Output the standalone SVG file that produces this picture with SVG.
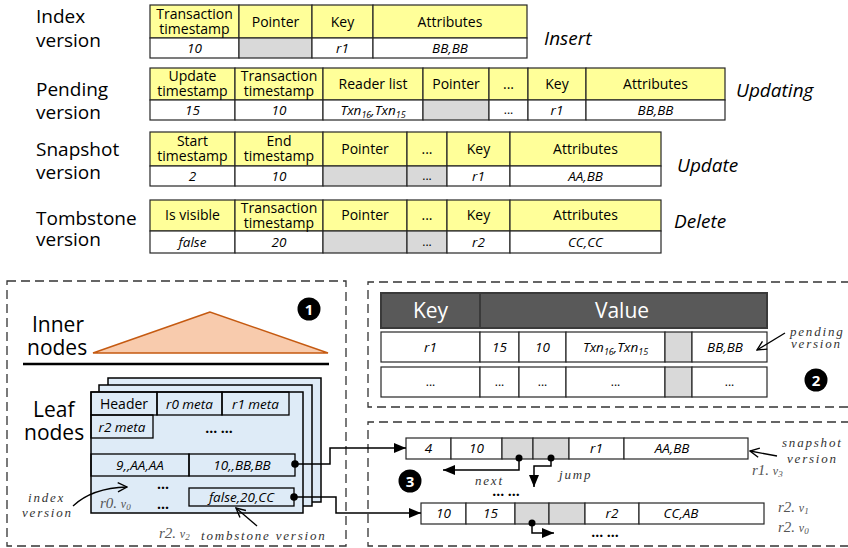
<svg xmlns="http://www.w3.org/2000/svg" width="848" height="548" viewBox="0 0 848 548">
<defs>
<style>
text{font-family:"Open Sans","Liberation Sans",sans-serif;fill:#000}
.y{fill:#FFFF99;stroke:#262626;stroke-width:1.2}
.w{fill:#fff;stroke:#262626;stroke-width:1.2}
.g{fill:#D9D9D9;stroke:#262626;stroke-width:1.2}
.h{font-size:14px;text-anchor:middle}
.d{font-size:13.5px;font-style:italic;text-anchor:middle}
.e{font-size:12px;text-anchor:middle}
.lb{font-size:19px}
.op{font-size:19px;font-style:italic}
.dash{fill:none;stroke:#333;stroke-width:1.3;stroke-dasharray:9 5}
.leaf{fill:#DEEBF7;stroke:#000;stroke-width:1.5}
.lc{fill:none;stroke:#000;stroke-width:1.3}
.m{font-family:"Liberation Serif",serif;font-style:italic;font-size:13px;letter-spacing:1.8px;fill:#333}
.s{font-family:"Liberation Serif",serif;font-style:italic;fill:#555}
.con{fill:none;stroke:#000;stroke-width:1.5}
.ann{fill:none;stroke:#000;stroke-width:1.3}
.bt{fill:#fff;font-size:15px;font-weight:bold;text-anchor:middle}
.kh{fill:#595959;stroke:#3a3a3a;stroke-width:2}
.kt{fill:#fff;font-size:21px;text-anchor:middle}
.big{font-size:21px}
.bdots{font-size:14px;font-weight:bold;text-anchor:middle}
</style>
<marker id="ah" viewBox="0 0 12 10" refX="12" refY="5" markerWidth="12" markerHeight="10" markerUnits="userSpaceOnUse" orient="auto"><path d="M0,0 L12,5 L0,10 z" fill="#000"/></marker>
<marker id="oa" viewBox="0 0 12 12" refX="11" refY="6" markerWidth="11" markerHeight="11" markerUnits="userSpaceOnUse" orient="auto"><path d="M1,1 L11,6 L1,11" fill="none" stroke="#000" stroke-width="1.5"/></marker>
</defs>

<!-- Index version -->
<g id="index-version">
<text class="lb" x="36" y="23">Index<tspan x="36" dy="24">version</tspan></text>
<rect class="y" x="150" y="5" width="89" height="33"/><rect class="y" x="239" y="5" width="73" height="33"/><rect class="y" x="312" y="5" width="61" height="33"/><rect class="y" x="373" y="5" width="154" height="33"/>
<rect class="w" x="150" y="38" width="89" height="20"/><rect class="g" x="239" y="38" width="73" height="20"/><rect class="w" x="312" y="38" width="61" height="20"/><rect class="w" x="373" y="38" width="154" height="20"/>
<text class="h" x="194.5" y="19">Transaction<tspan x="194.5" dy="15">timestamp</tspan></text>
<text class="h" x="275.5" y="27">Pointer</text><text class="h" x="342.5" y="27">Key</text><text class="h" x="450" y="27">Attributes</text>
<text class="d" x="194.5" y="53">10</text><text class="d" x="342.5" y="53">r1</text><text class="d" x="450" y="53">BB,BB</text>
<text class="op" x="544" y="45">Insert</text>
</g>

<!-- Pending version -->
<g id="pending-version">
<text class="lb" x="36" y="96">Pending<tspan x="36" dy="23">version</tspan></text>
<rect class="y" x="150" y="68" width="85" height="32"/><rect class="y" x="235" y="68" width="88" height="32"/><rect class="y" x="323" y="68" width="100" height="32"/><rect class="y" x="423" y="68" width="66" height="32"/><rect class="y" x="489" y="68" width="39" height="32"/><rect class="y" x="528" y="68" width="58" height="32"/><rect class="y" x="586" y="68" width="139" height="32"/>
<rect class="w" x="150" y="100" width="85" height="20"/><rect class="w" x="235" y="100" width="88" height="20"/><rect class="w" x="323" y="100" width="100" height="20"/><rect class="g" x="423" y="100" width="66" height="20"/><rect class="w" x="489" y="100" width="39" height="20"/><rect class="w" x="528" y="100" width="58" height="20"/><rect class="w" x="586" y="100" width="139" height="20"/>
<text class="h" x="192.5" y="81">Update<tspan x="192.5" dy="15">timestamp</tspan></text>
<text class="h" x="279" y="81">Transaction<tspan x="279" dy="15">timestamp</tspan></text>
<text class="h" x="373" y="89">Reader list</text><text class="h" x="456" y="89">Pointer</text><text class="h" x="508.5" y="89">...</text><text class="h" x="557" y="89">Key</text><text class="h" x="655.5" y="89">Attributes</text>
<text class="d" x="192.5" y="115">15</text><text class="d" x="279" y="115">10</text>
<text class="d" x="373" y="115">Txn<tspan font-size="9" dy="3">16</tspan><tspan dy="-3">,Txn</tspan><tspan font-size="9" dy="3">15</tspan></text>
<text class="e" x="508.5" y="114">...</text><text class="d" x="557" y="115">r1</text><text class="d" x="655.5" y="115">BB,BB</text>
<text class="op" x="736" y="97">Updating</text>
</g>

<!-- Snapshot version -->
<g id="snapshot-version">
<text class="lb" x="36" y="156">Snapshot<tspan x="36" dy="23">version</tspan></text>
<rect class="y" x="150" y="132" width="85" height="34"/><rect class="y" x="235" y="132" width="88" height="34"/><rect class="y" x="323" y="132" width="84" height="34"/><rect class="y" x="407" y="132" width="40" height="34"/><rect class="y" x="447" y="132" width="63" height="34"/><rect class="y" x="510" y="132" width="151" height="34"/>
<rect class="w" x="150" y="166" width="85" height="20"/><rect class="w" x="235" y="166" width="88" height="20"/><rect class="g" x="323" y="166" width="84" height="20"/><rect class="g" x="407" y="166" width="40" height="20"/><rect class="w" x="447" y="166" width="63" height="20"/><rect class="w" x="510" y="166" width="151" height="20"/>
<text class="h" x="192.5" y="146">Start<tspan x="192.5" dy="15">timestamp</tspan></text>
<text class="h" x="279" y="146">End<tspan x="279" dy="15">timestamp</tspan></text>
<text class="h" x="365" y="154">Pointer</text><text class="h" x="427" y="154">...</text><text class="h" x="478.5" y="154">Key</text><text class="h" x="585.5" y="154">Attributes</text>
<text class="d" x="192.5" y="181">2</text><text class="d" x="279" y="181">10</text><text class="e" x="427" y="180">...</text><text class="d" x="478.5" y="181">r1</text><text class="d" x="585.5" y="181">AA,BB</text>
<text class="op" x="677" y="172">Update</text>
</g>

<!-- Tombstone version -->
<g id="tombstone-version">
<text class="lb" x="36" y="225">Tombstone<tspan x="36" dy="21">version</tspan></text>
<rect class="y" x="150" y="200" width="85" height="31"/><rect class="y" x="235" y="200" width="88" height="31"/><rect class="y" x="323" y="200" width="84" height="31"/><rect class="y" x="407" y="200" width="40" height="31"/><rect class="y" x="447" y="200" width="63" height="31"/><rect class="y" x="510" y="200" width="151" height="31"/>
<rect class="w" x="150" y="231" width="85" height="22"/><rect class="w" x="235" y="231" width="88" height="22"/><rect class="g" x="323" y="231" width="84" height="22"/><rect class="g" x="407" y="231" width="40" height="22"/><rect class="w" x="447" y="231" width="63" height="22"/><rect class="w" x="510" y="231" width="151" height="22"/>
<text class="h" x="192.5" y="220">Is visible</text>
<text class="h" x="279" y="213">Transaction<tspan x="279" dy="15">timestamp</tspan></text>
<text class="h" x="365" y="220">Pointer</text><text class="h" x="427" y="220">...</text><text class="h" x="478.5" y="220">Key</text><text class="h" x="585.5" y="220">Attributes</text>
<text class="d" x="192.5" y="247">false</text><text class="d" x="279" y="247">20</text><text class="e" x="427" y="246">...</text><text class="d" x="478.5" y="247">r2</text><text class="d" x="585.5" y="247">CC,CC</text>
<text class="op" x="674" y="228">Delete</text>
</g>

<!-- Panel 1: B+ tree -->
<g id="panel1">
<rect class="dash" x="7" y="281" width="339" height="265"/>
<circle cx="309" cy="309" r="11.5" fill="#000"/><text class="bt" x="309" y="314.5">1</text>
<polygon points="210,312 93,353 328,353" fill="#F8CBAD" stroke="#C55A11" stroke-width="1.5"/>
<text class="big" x="32" y="332">Inner<tspan x="27" dy="23">nodes</tspan></text>
<line x1="23" y1="364" x2="329" y2="364" stroke="#000" stroke-width="2.5"/>
<text class="big" x="33" y="417">Leaf<tspan x="24" dy="23">nodes</tspan></text>
</g>

<g id="leaf-node">
<rect class="leaf" x="108" y="378" width="213" height="124"/>
<rect class="leaf" x="99" y="385" width="213" height="121"/>
<rect class="leaf" x="91" y="392" width="212" height="121"/>
<rect class="lc" x="91" y="392" width="66" height="23"/><rect class="lc" x="157" y="392" width="65" height="23"/><rect class="lc" x="222" y="392" width="67" height="23"/>
<rect class="lc" x="91" y="415" width="62" height="23"/>
<rect class="lc" x="91" y="454" width="98" height="22"/><rect class="lc" x="189" y="454" width="106" height="22"/>
<rect class="lc" x="189" y="488" width="105" height="18"/>
<text class="h" x="124" y="408.5">Header</text>
<text class="d" x="189.5" y="408.5" font-size="14">r0 meta</text>
<text class="d" x="255.5" y="408.5" font-size="14">r1 meta</text>
<text class="d" x="122" y="431.5" font-size="14">r2 meta</text>
<text class="bdots" x="219" y="433">... ...</text>
<text class="d" x="140" y="470" font-size="14">9,,AA,AA</text>
<text class="d" x="242" y="470" font-size="14">10,,BB,BB</text>
<text class="d" x="241.5" y="502" font-size="14">false,20,CC</text>
<text class="bdots" x="163" y="489">...</text>
<text class="bdots" x="163" y="509">...</text>
<text class="s" x="100" y="508" font-size="15">r0. <tspan font-size="12">v</tspan><tspan font-size="9" dy="2">0</tspan></text>
</g>

<g id="leaf-annotations">
<text class="m" x="28" y="502">index<tspan x="22" dy="15">version</tspan></text>
<text class="s" x="159" y="538" font-size="15">r2. <tspan font-size="12">v</tspan><tspan font-size="9" dy="2">2</tspan></text>
<text class="m" x="201" y="540">tombstone version</text>
</g>

<!-- Panel 2 -->
<g id="panel2">
<path class="dash" d="M850,282 H368 V407 H850"/>
<rect class="kh" x="381" y="293" width="99" height="35"/><rect class="kh" x="480" y="293" width="287" height="35"/>
<text class="kt" x="430.5" y="318">Key</text><text class="kt" x="622" y="318">Value</text>
<rect class="w" x="381" y="332" width="99" height="30"/><rect class="w" x="480" y="332" width="39" height="30"/><rect class="w" x="519" y="332" width="47" height="30"/><rect class="w" x="566" y="332" width="99" height="30"/><rect class="g" x="665" y="332" width="27" height="30"/><rect class="w" x="692" y="332" width="75" height="30"/>
<rect class="w" x="381" y="367" width="99" height="30"/><rect class="w" x="480" y="367" width="39" height="30"/><rect class="w" x="519" y="367" width="47" height="30"/><rect class="w" x="566" y="367" width="99" height="30"/><rect class="g" x="665" y="367" width="27" height="30"/><rect class="w" x="692" y="367" width="75" height="30"/>
<text class="d" x="430.5" y="352">r1</text><text class="d" x="499.5" y="352">15</text><text class="d" x="542.5" y="352">10</text>
<text class="d" x="615.5" y="352">Txn<tspan font-size="9" dy="3">16</tspan><tspan dy="-3">,Txn</tspan><tspan font-size="9" dy="3">15</tspan></text>
<text class="d" x="725" y="352">BB,BB</text>
<text class="e" x="430.5" y="386">...</text><text class="e" x="499.5" y="386">...</text><text class="e" x="542.5" y="386">...</text><text class="e" x="615.5" y="386">...</text><text class="e" x="729.5" y="386">...</text>
<text class="m" x="790" y="336">pending<tspan x="791" dy="12">version</tspan></text>
<circle cx="816" cy="380" r="11.5" fill="#000"/><text class="bt" x="816" y="385.5">2</text>
</g>

<!-- Panel 3 -->
<g id="panel3">
<path class="dash" d="M850,422 H368 V546 H850"/>
<circle cx="410" cy="481" r="11.5" fill="#000"/><text class="bt" x="410" y="486.5">3</text>
</g>

<g id="snapshot-record">
<rect class="w" x="406" y="438" width="45" height="21"/><rect class="w" x="451" y="438" width="51" height="21"/><rect class="g" x="502" y="438" width="31" height="21"/><rect class="g" x="533" y="438" width="36" height="21"/><rect class="w" x="569" y="438" width="55" height="21"/><rect class="w" x="624" y="438" width="124" height="21"/>
<text class="d" x="428.5" y="453">4</text><text class="d" x="476.5" y="453">10</text><text class="d" x="596.5" y="453">r1</text><text class="d" x="672" y="453">AA,BB</text>
<text class="m" x="782" y="447">snapshot<tspan x="787" dy="16">version</tspan></text>
<text class="s" x="752" y="475" font-size="15">r1. <tspan font-size="12">v</tspan><tspan font-size="9" dy="2">3</tspan></text>
<text class="m" x="475" y="485">next</text><text class="m" x="559" y="479">jump</text>
<text class="bdots" x="506" y="496">... ...</text>
</g>

<g id="r2-record">
<rect class="w" x="421" y="503" width="45" height="21"/><rect class="w" x="466" y="503" width="49" height="21"/><rect class="g" x="515" y="503" width="34" height="21"/><rect class="g" x="549" y="503" width="36" height="21"/><rect class="w" x="585" y="503" width="54" height="21"/><rect class="w" x="639" y="503" width="125" height="21"/>
<text class="d" x="443.5" y="518">10</text><text class="d" x="490.5" y="518">15</text><text class="d" x="612" y="518">r2</text><text class="d" x="681" y="518">CC,AB</text>
<text class="s" x="778" y="512" font-size="15">r2. <tspan font-size="12">v</tspan><tspan font-size="9" dy="2">1</tspan></text>
<text class="s" x="778" y="532" font-size="15">r2. <tspan font-size="12">v</tspan><tspan font-size="9" dy="2">0</tspan></text>
<text class="bdots" x="605" y="537">... ...</text>
</g>

<!-- Connectors -->
<g id="connectors">
<path class="con" d="M295,464 H330 V448 H406" marker-end="url(#ah)"/>
<path class="con" d="M294,497 H336 V513 H421" marker-end="url(#ah)"/>
<path class="con" d="M519,458 V470 H443" marker-end="url(#ah)"/>
<path class="con" d="M551,458 V466 H534 V487" marker-end="url(#ah)"/>
<path class="con" d="M532,523 V533 H554" marker-end="url(#ah)"/>
<circle cx="295" cy="464" r="3.8"/><circle cx="294" cy="497" r="3.8"/>
<circle cx="519" cy="458" r="3.5"/><circle cx="551" cy="458" r="3.5"/><circle cx="532" cy="523" r="3.5"/>
<path class="ann" d="M73,506 Q92,488 127,487" marker-end="url(#oa)"/>
<path class="ann" d="M257,526 L236,508" marker-end="url(#oa)"/>
<path class="ann" d="M785,333 L757,350" marker-end="url(#oa)"/>
<path class="ann" d="M777,456 L750,451" marker-end="url(#oa)"/>
</g>
</svg>
